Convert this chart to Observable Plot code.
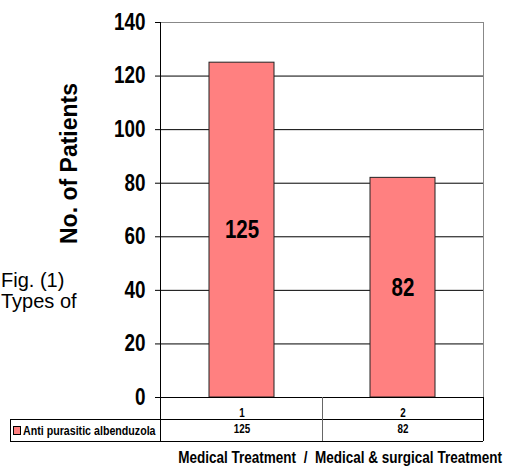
<!DOCTYPE html>
<html>
<head>
<meta charset="utf-8">
<script src="https://cdn.jsdelivr.net/npm/d3@7"></script>
<script src="https://cdn.jsdelivr.net/npm/@observablehq/plot@0.6"></script>
<style>
  html, body { margin: 0; padding: 0; background: #fff; }
</style>
</head>
<body>
<div id="chart"></div>
<script>
const categories = ["1", "2"];
const values = [125, 82];
const seriesName = "Anti purasitic albenduzola";
const yTicks = [0, 20, 40, 60, 80, 100, 120, 140];
const yTitle = "No. of Patients";
const xTitle = "Medical Treatment  /  Medical & surgical Treatment";
const figText = ["Fig. (1)", "Types of"];

const data = categories.map((c, i) => ({cat: c, value: values[i]}));
const barColor = "#FF8080";
const font = "'Liberation Sans', Arial, sans-serif";
const NARROW = 0.82;

const W = 505, H = 466;
const mL = 160, mR = 22, mT = 22, mB = 69;

const plot = Plot.plot({
  width: W,
  height: H,
  marginLeft: mL,
  marginRight: mR,
  marginTop: mT,
  marginBottom: mB,
  style: {fontFamily: font, background: "#fff", overflow: "visible"},
  x: {domain: categories, padding: 0},
  y: {domain: [0, 140]},
  marks: [
    Plot.gridY(yTicks, {stroke: "#000", strokeOpacity: 1, strokeWidth: 1}),
    Plot.barY(data, {x: "cat", y: "value", fill: barColor, stroke: "#222", strokeWidth: 1, insetLeft: 48, insetRight: 48}),
    Plot.text(data, {x: "cat", y: d => d.value / 2, text: d => String(d.value), fontSize: 25, fontWeight: "bold", fill: "#000", className: "narrow"}),
    Plot.axisY(yTicks, {tickSize: 5, tickPadding: 10, fontSize: 23, fontWeight: "bold", label: null, stroke: "#000", fill: "#000", className: "narrow"}),
    Plot.axisX({tickSize: 0, tickPadding: 0, dy: 11, fontSize: 12, fontWeight: "bold", label: null, fill: "#000", className: "narrow"}),
    Plot.text(data, {x: "cat", frameAnchor: "bottom", dy: 35, text: d => String(d.value), fontSize: 12, fontWeight: "bold", fill: "#000", className: "narrow"})
  ]
});

document.getElementById("chart").appendChild(plot);

const svg = d3.select(plot);
const xs = plot.scale("x");
const ys = plot.scale("y");
const y0 = ys.apply(0), yTop = ys.apply(140);
const xL = mL, xR = W - mR;
const xMid = xs.apply(categories[1]);
const row1 = y0 + 22, row2 = row1 + 22;
const legendLeft = 10;

const g = svg.append("g").attr("fill", "none").attr("shape-rendering", "crispEdges");
g.append("line").attr("x1", xL).attr("x2", xR).attr("y1", yTop).attr("y2", yTop).attr("stroke", "#888");
g.append("line").attr("x1", xR).attr("x2", xR).attr("y1", yTop).attr("y2", y0).attr("stroke", "#888");
g.append("line").attr("x1", xL).attr("x2", xL).attr("y1", yTop).attr("y2", row2).attr("stroke", "#000");
g.append("line").attr("x1", xL).attr("x2", xR).attr("y1", y0).attr("y2", y0).attr("stroke", "#000");
g.append("line").attr("x1", legendLeft).attr("x2", xR).attr("y1", row1).attr("y2", row1).attr("stroke", "#000");
g.append("line").attr("x1", legendLeft).attr("x2", xR).attr("y1", row2).attr("y2", row2).attr("stroke", "#000");
g.append("line").attr("x1", legendLeft).attr("x2", legendLeft).attr("y1", row1).attr("y2", row2).attr("stroke", "#000");
g.append("line").attr("x1", xR).attr("x2", xR).attr("y1", y0).attr("y2", row2).attr("stroke", "#000");
g.append("line").attr("x1", xMid).attr("x2", xMid).attr("y1", y0).attr("y2", row2).attr("stroke", "#666");

const tg = svg.append("g").attr("font-family", font).attr("fill", "#000");

// legend swatch + name
tg.append("rect").attr("x", 13).attr("y", row1 + 7).attr("width", 7).attr("height", 8)
  .attr("fill", barColor).attr("stroke", "#000").attr("shape-rendering", "crispEdges");
tg.append("text").attr("class", "narrow").attr("x", 23).attr("y", row1 + 11).attr("dy", "0.35em")
  .attr("text-anchor", "start").attr("font-size", 13).attr("font-weight", "bold").text(seriesName);

// y title
tg.append("text").attr("transform", `translate(77,${(yTop + y0) / 2 - 46}) rotate(-90)`)
  .attr("text-anchor", "middle").attr("font-size", 23).attr("font-weight", "bold").text(yTitle);

// x title
tg.append("text").attr("class", "narrow").attr("x", 502).attr("y", 463).attr("text-anchor", "end")
  .attr("font-size", 16.5).attr("font-weight", "bold")
  .attr("xml:space", "preserve").style("white-space", "pre").text(xTitle);

// fig text
figText.forEach((t, i) => {
  tg.append("text").attr("x", 1).attr("y", 287 + i * 21).attr("text-anchor", "start")
    .attr("font-size", 20).style("white-space", "pre").text(t);
});

// horizontally condense the "narrow" texts around their anchor point
plot.querySelectorAll(".narrow text, text.narrow").forEach(el => {
  const x = parseFloat(el.getAttribute("x")) || 0;
  const old = el.getAttribute("transform") || "";
  el.setAttribute("transform", `${old} translate(${x},0) scale(${NARROW},1) translate(${-x},0)`);
});
</script>
</body>
</html>
